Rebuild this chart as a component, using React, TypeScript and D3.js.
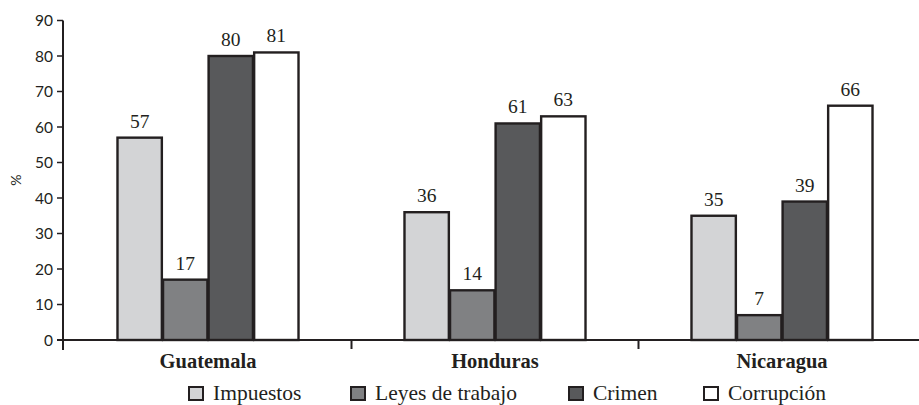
import * as React from "react";
import * as d3 from "d3";

const countries = ["Guatemala", "Honduras", "Nicaragua"];
const seriesNames = ["Impuestos", "Leyes de trabajo", "Crimen", "Corrupción"];
const impuestos = [57, 36, 35];
const leyes = [17, 14, 7];
const crimen = [80, 61, 39];
const corrupcion = [81, 63, 66];
const yTicks = [0, 10, 20, 30, 40, 50, 60, 70, 80, 90];

const seriesValues = [impuestos, leyes, crimen, corrupcion];
const FILLS = ["#d3d4d6", "#808183", "#58595b", "#ffffff"];
const INK = "#231f20";

const W = 919;
const H = 405;
const AXIS_X = 63;
const SERIF = "'Liberation Serif', 'DejaVu Serif', serif";
const SANS = "Lato, 'Open Sans', sans-serif";

export default function App() {
  const x = d3.scaleBand<string>().domain(countries).range([64.5, 925.5]).padding(0);
  const y = d3.scaleLinear().domain([0, 90]).range([340, 20.5]);
  // four bars per country, ~182px wide group centred in each band
  const inner = d3
    .scaleBand<string>()
    .domain(seriesNames)
    .range([0, x.bandwidth()])
    .paddingInner(0)
    .paddingOuter(1.15);

  const legendX = [189, 351, 569, 704];

  return (
    <svg
      width={W}
      height={H}
      style={{ position: "absolute", left: 0, top: 0, background: "#fff" }}
    >
      {/* y axis */}
      <line x1={AXIS_X} x2={AXIS_X} y1={y(90)} y2={350} stroke={INK} strokeWidth={2} />
      {yTicks.map((t) => (
        <g key={`yt-${t}`}>
          <line x1={AXIS_X - 6} x2={AXIS_X} y1={y(t)} y2={y(t)} stroke={INK} strokeWidth={1.5} />
          <text
            x={AXIS_X - 10}
            y={y(t)}
            dy="0.36em"
            textAnchor="end"
            fontFamily={SANS}
            fontSize={15.5}
            fill={INK}
          >
            {t}
          </text>
        </g>
      ))}
      <text
        transform={`translate(21,${y(45)}) rotate(-90)`}
        textAnchor="middle"
        fontFamily={SANS}
        fontSize={14}
        fill={INK}
      >
        %
      </text>

      {/* bars */}
      {countries.map((c, ci) => (
        <g key={c} transform={`translate(${x(c)},0)`}>
          {seriesNames.map((s, si) => {
            const v = seriesValues[si][ci];
            const bx = inner(s)!;
            return (
              <g key={s}>
                <rect
                  x={bx + 0.6}
                  y={y(v)}
                  width={inner.bandwidth() - 1.2}
                  height={y(0) - y(v)}
                  fill={FILLS[si]}
                  stroke={INK}
                  strokeWidth={2.4}
                />
                <text
                  x={bx + inner.bandwidth() / 2}
                  y={y(v) - 10}
                  textAnchor="middle"
                  fontFamily={SERIF}
                  fontSize={19.5}
                  fill={INK}
                >
                  {v}
                </text>
              </g>
            );
          })}
        </g>
      ))}

      {/* x axis */}
      <line x1={AXIS_X - 6} x2={919} y1={y(0)} y2={y(0)} stroke={INK} strokeWidth={2.2} />
      {countries.slice(1).map((c) => (
        <line
          key={`xt-${c}`}
          x1={x(c)!}
          x2={x(c)!}
          y1={y(0)}
          y2={349}
          stroke={INK}
          strokeWidth={2}
        />
      ))}
      {countries.map((c) => (
        <text
          key={`xl-${c}`}
          x={x(c)! + x.bandwidth() / 2}
          y={368}
          textAnchor="middle"
          fontFamily={SERIF}
          fontWeight="bold"
          fontSize={20.5}
          fill={INK}
        >
          {c}
        </text>
      ))}

      {/* legend */}
      {seriesNames.map((s, i) => (
        <g key={`lg-${s}`} transform={`translate(${legendX[i]},387)`}>
          <rect x={0} y={0} width={14} height={13} fill={FILLS[i]} stroke={INK} strokeWidth={2} />
          <text x={24} y={13} fontFamily={SERIF} fontSize={21.5} fill={INK}>
            {s}
          </text>
        </g>
      ))}
    </svg>
  );
}
